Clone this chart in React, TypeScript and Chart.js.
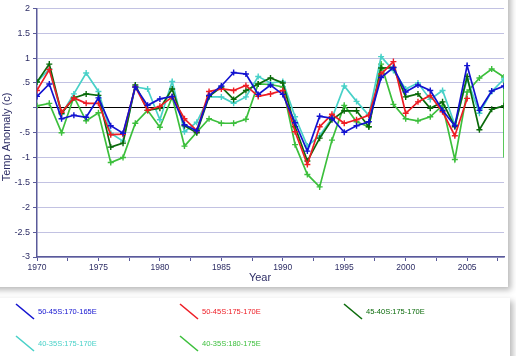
import React, { useEffect, useRef } from "react";
import { Chart, registerables } from "chart.js";
Chart.register(...registerables);

const years = [1970,1971,1972,1973,1974,1975,1976,1977,1978,1979,1980,1981,1982,1983,1984,1985,1986,1987,1988,1989,1990,1991,1992,1993,1994,1995,1996,1997,1998,1999,2000,2001,2002,2003,2004,2005,2006,2007,2008];

const s5045_170 = [0.23,0.48,-0.22,-0.15,-0.19,0.2,-0.36,-0.51,0.42,0.05,0.18,0.23,-0.34,-0.46,0.25,0.44,0.71,0.68,0.27,0.46,0.27,-0.3,-0.87,-0.17,-0.21,-0.49,-0.36,-0.28,0.61,0.81,0.32,0.46,0.35,-0.05,-0.36,0.85,-0.05,0.34,0.44];
const s5045_175 = [0.35,0.77,-0.09,0.2,0.09,0.09,-0.54,-0.53,0.42,-0.05,0.03,0.22,-0.22,-0.46,0.33,0.38,0.35,0.45,0.23,0.28,0.35,-0.48,-1.14,-0.38,-0.13,-0.31,-0.24,-0.15,0.68,0.93,-0.11,0.12,0.25,-0.08,-0.56,0.19,null,null,null];
const s4540_175 = [0.52,0.88,-0.11,0.2,0.28,0.25,-0.79,-0.71,0.46,-0.05,-0.01,0.38,-0.36,-0.5,0.23,0.42,0.17,0.35,0.48,0.6,0.5,-0.38,-1.07,-0.61,-0.24,-0.06,-0.06,-0.38,0.8,0.81,0.22,0.28,-0.01,0.12,-0.38,0.63,-0.44,-0.03,0.04];
const s4035_175 = [0.52,0.78,-0.13,0.28,0.7,0.33,-0.51,-0.67,0.42,0.38,-0.24,0.53,-0.48,-0.29,0.22,0.22,0.09,0.22,0.63,0.5,0.53,-0.18,-0.77,-0.56,-0.21,0.44,0.13,-0.15,1.03,0.75,0.38,0.5,0.17,0.35,-0.34,0.58,-0.11,0.33,0.58];
const s4035_180 = [0.04,0.09,-0.5,0.22,-0.26,-0.1,-1.1,-1.0,-0.31,-0.05,-0.39,0.22,-0.77,-0.49,-0.22,-0.31,-0.31,-0.23,0.48,0.47,0.42,-0.74,-1.34,-1.59,-0.65,0.05,-0.28,-0.38,0.88,0.07,-0.22,-0.26,-0.18,0.05,-1.04,0.32,0.6,0.78,0.62];
const tailYear = 2008;
const tailValue = -1.0;

const seriesNames = ["50-45S:170-165E","50-45S:175-170E","45-40S:175-170E","40-35S:175-170E","40-35S:180-175E"];
const seriesColors = ["#1212d0","#ee1c24","#0b6b0b","#48d1c8","#3cbf3c"];
const seriesValues = [s5045_170, s5045_175, s4540_175, s4035_175, s4035_180];

const AXIS = "#5a5a9a";
const TEXT = "#2e2e66";

function fmtY(v: number): string {
  if (v === 0) return "";
  const a = Math.abs(v);
  let s = String(a);
  if (a < 1) s = s.replace(/^0/, "");
  return (v < 0 ? "-" : "") + s;
}

const decor = {
  id: "decor",
  beforeDraw(chart: any) {
    const ctx = chart.ctx;
    ctx.save();
    ctx.fillStyle = "#ffffff";
    ctx.fillRect(0, 0, chart.width, chart.height);
    ctx.shadowColor = "rgba(0,0,0,0.28)";
    ctx.shadowBlur = 6;
    ctx.shadowOffsetX = 3;
    ctx.shadowOffsetY = 3;
    ctx.fillRect(-20, -20, 528, 307);
    ctx.fillRect(-20, 298, 530, 80);
    ctx.restore();
  },
  afterDraw(chart: any) {
    const ctx = chart.ctx;
    ctx.save();
    ctx.fillStyle = TEXT;
    ctx.font = "11px 'Liberation Sans', Arial, sans-serif";
    ctx.textAlign = "center";
    ctx.textBaseline = "middle";
    ctx.fillText("Year", 260, 278);
    ctx.translate(7, 137);
    ctx.rotate(-Math.PI / 2);
    ctx.fillText("Temp Anomaly (c)", 0, 0);
    ctx.restore();

    ctx.save();
    ctx.font = "7.5px 'Liberation Sans', Arial, sans-serif";
    ctx.textBaseline = "middle";
    ctx.textAlign = "left";
    const cols = [16, 180, 344];
    const rows = [304, 336];
    seriesNames.forEach((name, i) => {
      const x = cols[i % 3];
      const y = rows[Math.floor(i / 3)];
      ctx.strokeStyle = seriesColors[i];
      ctx.lineWidth = 1.6;
      ctx.beginPath();
      ctx.moveTo(x, y);
      ctx.lineTo(x + 18, y + 15);
      ctx.stroke();
      ctx.fillStyle = seriesColors[i];
      ctx.fillText(name, x + 22, y + 8);
    });
    ctx.restore();
  },
};

export default function App() {
  const ref = useRef<HTMLCanvasElement>(null);
  useEffect(() => {
    if (!ref.current) return;
    const datasets = seriesValues.map((vals, i) => {
      const pts: any[] = years.map((yr, j) => ({ x: yr, y: vals[j] }));
      if (i === 4) pts.push({ x: tailYear, y: tailValue });
      return {
        label: seriesNames[i],
        data: pts,
        borderColor: seriesColors[i],
        backgroundColor: seriesColors[i],
        borderWidth: 1.7,
        pointStyle: "cross",
        pointRadius: i === 4 ? pts.map((_, k) => (k === pts.length - 1 ? 0 : 3)) : 3,
        pointBorderWidth: 1.4,
        pointBorderColor: seriesColors[i],
        tension: 0,
        spanGaps: false,
      };
    });
    const chart = new Chart(ref.current, {
      type: "line",
      data: { datasets },
      plugins: [decor],
      options: {
        animation: false,
        responsive: false,
        devicePixelRatio: 1,
        layout: { padding: { top: 5, right: 12, left: 0, bottom: 0 } },
        plugins: { legend: { display: false }, tooltip: { enabled: false } },
        scales: {
          x: {
            type: "linear",
            min: 1970,
            max: 2008,
            afterFit: (s: any) => { s.height = 99; },
            ticks: {
              stepSize: 2.5,
              includeBounds: false,
              autoSkip: false,
              maxRotation: 0,
              padding: 2,
              color: TEXT,
              font: { size: 8.5, family: "'Liberation Sans', Arial, sans-serif" },
              callback: (v: any) => (Number(v) % 5 === 0 ? String(v) : ""),
            },
            grid: { drawOnChartArea: false, tickLength: 4, color: AXIS, tickColor: AXIS },
            border: { color: AXIS, width: 1.5 },
          },
          y: {
            min: -3,
            max: 2,
            afterFit: (s: any) => { s.width = 37; },
            ticks: {
              stepSize: 0.5,
              padding: 3,
              color: TEXT,
              font: { size: 9, family: "'Liberation Sans', Arial, sans-serif" },
              callback: (v: any) => fmtY(Number(v)),
            },
            grid: {
              color: (c: any) => (c.tick && c.tick.value === 0 ? "#000000" : "#c2c2e2"),
              lineWidth: 1,
              tickLength: 4,
              tickColor: AXIS,
            },
            border: { color: AXIS, width: 1.5 },
          },
        },
      },
    } as any);
    return () => chart.destroy();
  }, []);
  return (
    <div style={{ position: "absolute", left: 0, top: 0, width: 516, height: 356 }}>
      <canvas ref={ref} width={516} height={356} style={{ display: "block" }} />
    </div>
  );
}
